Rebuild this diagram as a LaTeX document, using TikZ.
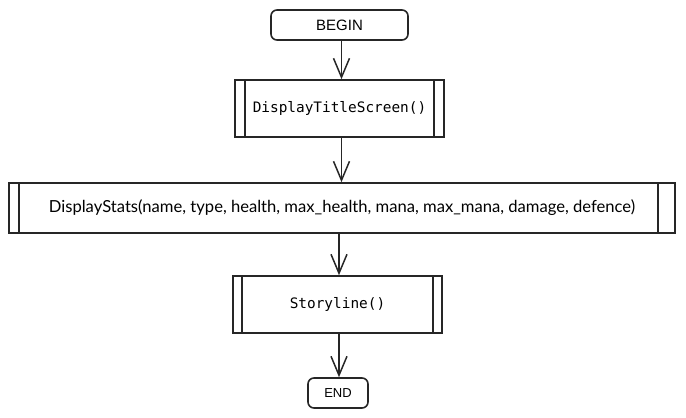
\documentclass[tikz,border=0pt]{standalone}
\usepackage{fontspec}
\setmainfont{Liberation Sans}
\newfontfamily\monof{DejaVu Sans Mono}
\newfontfamily\statf{Lato}
\usetikzlibrary{arrows.meta}
\begin{document}
\begin{tikzpicture}[x=1pt,y=-1pt,
  lw/.style={line width=1.6pt, draw=black!85},
  term/.style={lw, rounded corners=6pt, inner sep=0pt, font=\fontsize{15}{15}\selectfont},
  proc/.style={lw, inner sep=0pt},
  bar/.style={lw},
  arr/.style={line width=1.5pt, draw=black!85, -{Straight Barb[length=19pt,width=16pt,line width=1.5pt]}}]
\useasboundingbox (0,0) rectangle (686,418);
% BEGIN
\node[term, minimum width=137pt, minimum height=30pt] (begin) at (339.5,25) {BEGIN};
% DisplayTitleScreen
\node[proc, minimum width=209pt, minimum height=57pt, font=\monof\fontsize{14.4}{14.4}\selectfont] (title) at (339.5,108.5) {DisplayTitleScreen()};
\draw[bar] ([xshift=11pt]title.north west) -- ([xshift=11pt]title.south west);
\draw[bar] ([xshift=-11pt]title.north east) -- ([xshift=-11pt]title.south east);
% DisplayStats
\node[proc, minimum width=666pt, minimum height=50pt, font=\statf\fontsize{16.6}{16.6}\selectfont] (stats) at (342,208) {DisplayStats(name, type, health, max\_health, mana, max\_mana, damage, defence)};
\draw[bar] ([xshift=11pt]stats.north west) -- ([xshift=11pt]stats.south west);
\draw[bar] ([xshift=-18pt]stats.north east) -- ([xshift=-18pt]stats.south east);
% Storyline
\node[proc, minimum width=209pt, minimum height=57pt, font=\monof\fontsize{14.4}{14.4}\selectfont] (story) at (337.5,304.5) {Storyline()};
\draw[bar] ([xshift=10pt]story.north west) -- ([xshift=10pt]story.south west);
\draw[bar] ([xshift=-10pt]story.north east) -- ([xshift=-10pt]story.south east);
% END
\node[term, minimum width=60pt, minimum height=30pt, font=\fontsize{13}{13}\selectfont] (end) at (338,393) {END};
% arrows
\draw[arr] ([xshift=2pt]begin.south) -- ([xshift=2pt]title.north);
\draw[arr] ([xshift=2pt]title.south) -- ([xshift=-0.5pt]stats.north);
\draw[arr] ([xshift=-3pt]stats.south) -- ([xshift=1.5pt]story.north);
\draw[arr] ([xshift=1.5pt]story.south) -- ([xshift=1pt]end.north);
\end{tikzpicture}
\end{document}
